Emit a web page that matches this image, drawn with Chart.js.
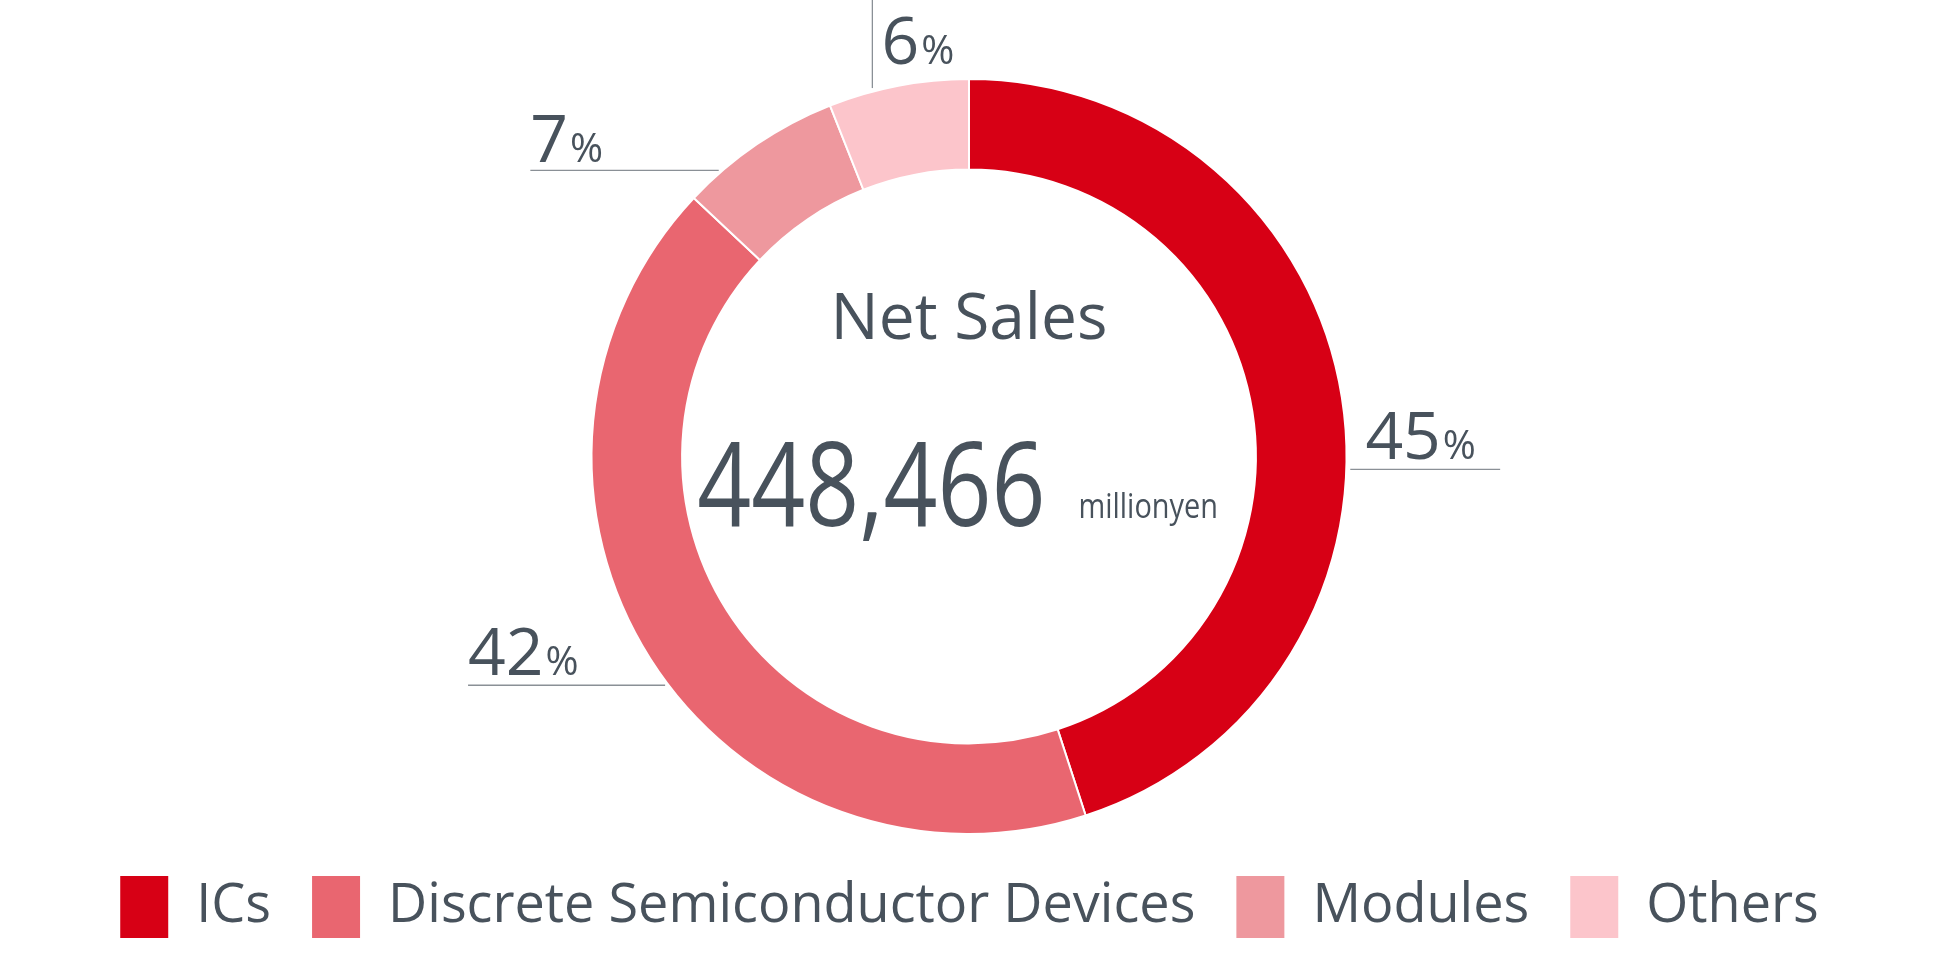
<!DOCTYPE html>
<html>
<head>
<meta charset="utf-8">
<script src="https://cdn.jsdelivr.net/npm/chart.js@4/dist/chart.umd.min.js"></script>
<style>
  html, body { margin: 0; padding: 0; background: #fff; }
  #wrap { width: 1938px; height: 959px; }
</style>
</head>
<body>
<div id="wrap"><canvas id="salesChart"></canvas></div>
<script>
const categories = ['ICs', 'Discrete Semiconductor Devices', 'Modules', 'Others'];
const shares = [45, 42, 7, 6];
const colors = ['#d70015', '#e96670', '#ee989e', '#fcc5cb'];
const totalLabel = '448,466';
const unitLabel = 'millionyen';
const textColor = '#48525c';

// leader line placement per slice, in units of outer radius (dx1, dx2, dy), or vertical for the small top one
const leaders = [
  { x1: 1.01, x2: 1.407, y: 0.034, tx: 1.05, ty: 0.007 },
  { x1: -1.327, x2: -0.805, y: 0.606, tx: -1.327, ty: 0.58 },
  { x1: -1.162, x2: -0.663, y: -0.758, tx: -1.162, ty: -0.78 },
  { vx: -0.256, y1: -1.21, y2: -0.976, tx: -0.232, ty: -1.04 }
];

const labelsPlugin = {
  id: 'labels',
  afterDraw(chart) {
    const ctx = chart.ctx;
    const arcs = chart.getDatasetMeta(0).data;
    const cx = arcs[0].x, cy = arcs[0].y, R = arcs[0].outerRadius;
    ctx.save();
    ctx.strokeStyle = '#8a9096';
    ctx.lineWidth = 1.3;
    ctx.fillStyle = textColor;
    ctx.textBaseline = 'alphabetic';
    ctx.textAlign = 'left';
    shares.forEach((v, i) => {
      const l = leaders[i];
      ctx.beginPath();
      if (l.vx !== undefined) {
        ctx.moveTo(cx + l.vx * R, cy + l.y1 * R);
        ctx.lineTo(cx + l.vx * R, cy + l.y2 * R);
      } else {
        ctx.moveTo(cx + l.x1 * R, cy + l.y * R);
        ctx.lineTo(cx + l.x2 * R, cy + l.y * R);
      }
      ctx.stroke();
      const tx = cx + l.tx * R, ty = cy + l.ty * R;
      ctx.font = '66px "Open Sans"';
      ctx.fillText(String(v), tx, ty);
      const w = ctx.measureText(String(v)).width;
      ctx.font = '40px "Open Sans"';
      ctx.fillText('%', tx + w + 2, ty);
    });
    // center text
    ctx.textAlign = 'center';
    ctx.font = '64px "Open Sans"';
    ctx.fillText('Net Sales', cx, cy - 0.31 * R);
    ctx.textAlign = 'left';
    ctx.font = '118px "Open Sans"';
    ctx.save();
    ctx.translate(cx - 0.72 * R, cy + 0.185 * R);
    ctx.scale(0.8, 1);
    ctx.fillText(totalLabel, 0, 0);
    ctx.restore();
    ctx.font = '34px "Open Sans"';
    ctx.save();
    ctx.translate(cx + 0.29 * R, cy + 0.162 * R);
    ctx.scale(0.85, 1);
    ctx.fillText(unitLabel, 0, 0);
    ctx.restore();
    ctx.restore();
  }
};

new Chart(document.getElementById('salesChart'), {
  type: 'doughnut',
  data: {
    labels: categories,
    datasets: [{
      data: shares,
      backgroundColor: colors,
      borderColor: '#ffffff',
      borderWidth: 2,
      cutout: '76%'
    }]
  },
  options: {
    responsive: true,
    maintainAspectRatio: false,
    animation: false,
    events: [],
    layout: { padding: { top: 78, bottom: 10 } },
    plugins: {
      tooltip: { enabled: false },
      legend: {
        position: 'bottom',
        labels: {
          boxWidth: 50,
          boxHeight: 64,
          padding: 40,
          color: textColor,
          font: { family: 'Open Sans', size: 54 }
        }
      }
    }
  },
  plugins: [labelsPlugin]
});
</script>
</body>
</html>
